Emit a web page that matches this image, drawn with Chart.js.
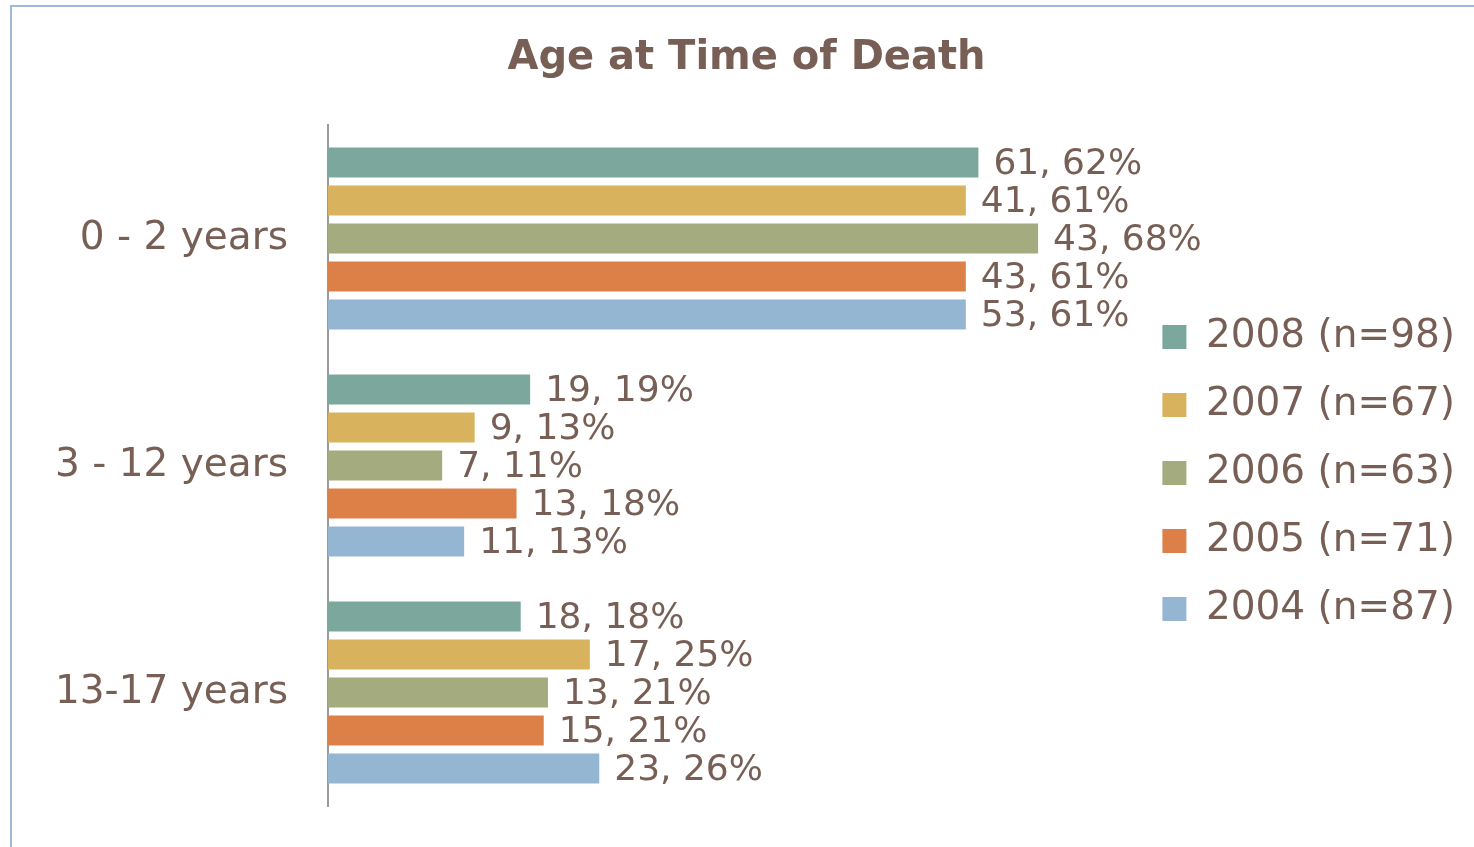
<!DOCTYPE html>
<html>
<head>
<meta charset="utf-8">
<script src="https://cdn.jsdelivr.net/npm/chart.js@4/dist/chart.umd.min.js"></script>
<style>
  html, body { margin: 0; padding: 0; background: #ffffff; overflow: hidden; }
  #frame { position: absolute; left: 10px; top: 5px; width: 1500px; height: 900px;
           border-left: 2px solid #9dbbd8; border-top: 2px solid #9dbbd8; box-sizing: border-box; }
  #wrap { position: absolute; left: 0; top: 0; width: 1474px; height: 847px; }
</style>
</head>
<body>
<div id="frame"></div>
<div id="wrap"><canvas id="c" width="1474" height="847"></canvas></div>
<script>
const categories = ['0 - 2 years', '3 - 12 years', '13-17 years'];
const seriesNames = ['2008 (n=98)', '2007 (n=67)', '2006 (n=63)', '2005 (n=71)', '2004 (n=87)'];
const seriesColors = ['#7ba79d', '#d8b25c', '#a3ab7f', '#dd8047', '#94b6d2'];

// bar lengths (percent)
const pct2008 = [62.1, 19.3, 18.4];
const pct2007 = [60.9, 14.0, 25.0];
const pct2006 = [67.8, 10.9, 21.0];
const pct2005 = [60.9, 18.0, 20.6];
const pct2004 = [60.9, 13.0, 25.9];

// data label texts: count, percent
const count2008 = [61, 19, 18];  const lbl2008 = [62, 19, 18];
const count2007 = [41, 9, 17];   const lbl2007 = [61, 13, 25];
const count2006 = [43, 7, 13];   const lbl2006 = [68, 11, 21];
const count2005 = [43, 13, 15];  const lbl2005 = [61, 18, 21];
const count2004 = [53, 11, 23];  const lbl2004 = [61, 13, 26];

const barValues = [pct2008, pct2007, pct2006, pct2005, pct2004];
const counts = [count2008, count2007, count2006, count2005, count2004];
const pctLabels = [lbl2008, lbl2007, lbl2006, lbl2005, lbl2004];

const TEXT = '#775f55';
const FONT = "'DejaVu Sans', sans-serif";

const datasets = seriesNames.map((name, i) => ({
  label: name,
  data: barValues[i],
  backgroundColor: seriesColors[i],
  borderWidth: 0,
  categoryPercentage: 0.837,
  barPercentage: 0.79
}));

const valueLabels = {
  id: 'valueLabels',
  afterDatasetsDraw(chart) {
    const ctx = chart.ctx;
    ctx.save();
    ctx.font = "36px " + FONT;
    ctx.fillStyle = TEXT;
    ctx.textAlign = 'left';
    ctx.textBaseline = 'middle';
    chart.data.datasets.forEach((ds, di) => {
      const meta = chart.getDatasetMeta(di);
      meta.data.forEach((el, j) => {
        const txt = counts[di][j] + ', ' + pctLabels[di][j] + '%';
        ctx.fillText(txt, el.x + 15, el.y + 2);
      });
    });
    ctx.restore();
  }
};

new Chart(document.getElementById('c'), {
  type: 'bar',
  data: { labels: categories, datasets },
  plugins: [valueLabels],
  options: {
    indexAxis: 'y',
    responsive: false,
    animation: false,
    layout: { padding: { left: 28, right: 9, top: 0, bottom: 41 } },
    scales: {
      x: { display: false, min: 0, max: 76.9 },
      y: {
        grid: { display: false, drawTicks: false },
        border: { display: true, color: '#9a9a9a', width: 2 },
        ticks: { color: TEXT, font: { family: FONT, size: 39 }, padding: 40 },
        afterFit(axis) { axis.width = 300; axis.paddingTop = 0; axis.paddingBottom = 0; }
      }
    },
    plugins: {
      title: {
        display: true,
        text: 'Age at Time of Death',
        color: TEXT,
        font: { family: FONT, size: 40, weight: 'bold', lineHeight: 1.2 },
        padding: { top: 35, bottom: 42 }
      },
      legend: {
        position: 'right',
        align: 'center',
        title: { display: true, text: ' ', font: { size: 10, lineHeight: 1.2 }, padding: { top: 128, bottom: 0 } },
        labels: {
          color: TEXT,
          font: { family: FONT, size: 39 },
          boxWidth: 24,
          boxHeight: 24,
          padding: 29
        }
      },
      tooltip: { enabled: false }
    }
  }
});
</script>
</body>
</html>
